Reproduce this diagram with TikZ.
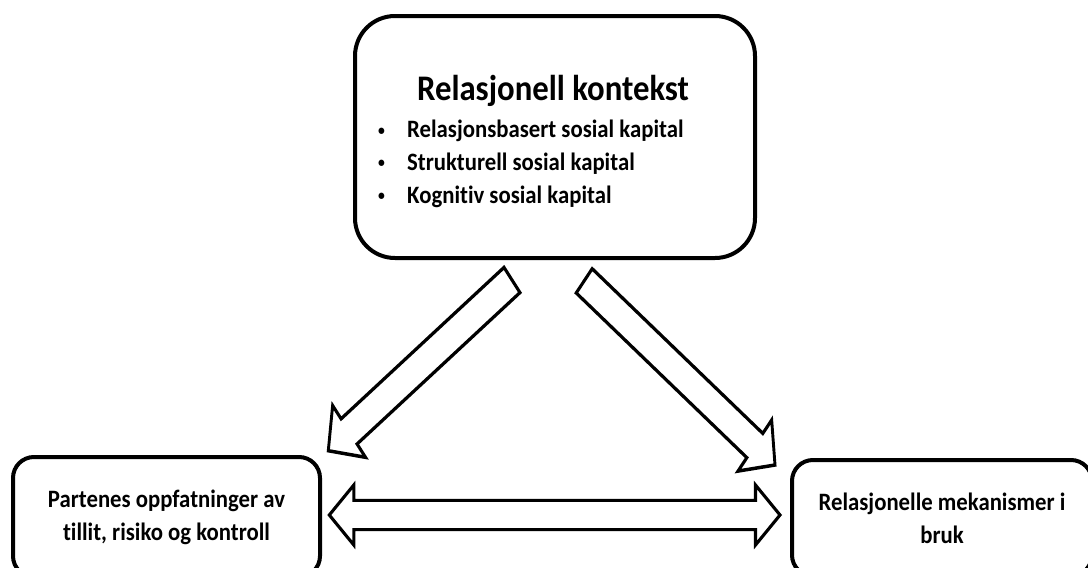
\documentclass[tikz,border=0pt]{standalone}
\usepackage{fontspec}
\setmainfont{Carlito}[FakeStretch=0.91, Ligatures=NoCommon]
\usetikzlibrary{calc}

\tikzset{
  box/.style={draw=black, line width=4pt, fill=white, inner sep=0pt, align=center,
    font=\bfseries\fontsize{25}{33}\selectfont},
  blockarr/.style={draw=black, fill=white, line width=3.1pt, line join=miter},
  itemtext/.style={anchor=base west, inner sep=0pt, font=\bfseries\fontsize{25}{33}\selectfont},
}

% small list bullet followed by the gap before the item text
\newcommand\itembullet{\makebox[31pt][l]{\hspace{2pt}\raisebox{2.6pt}{\fontsize{15}{15}\selectfont •}}}

% single block arrow: tail, tip, half shaft width, half head width, head length
\newcommand\blockarrow[5]{%
  \draw[blockarr] ($(#1)!#3!90:(#2)$)
    -- ($(#2)!#5!(#1)!#3!-90:(#1)$)
    -- ($(#2)!#5!(#1)!#4!-90:(#1)$)
    -- (#2)
    -- ($(#2)!#5!(#1)!#4!90:(#1)$)
    -- ($(#2)!#5!(#1)!#3!90:(#1)$)
    -- ($(#1)!#3!-90:(#2)$)
    -- cycle;}

% double-headed block arrow: left tip, right tip, half shaft, half head, head length
\newcommand\dblarrow[5]{%
  \draw[blockarr] (#1)
    -- ($(#1)!#5!(#2)!#4!90:(#2)$)
    -- ($(#1)!#5!(#2)!#3!90:(#2)$)
    -- ($(#2)!#5!(#1)!#3!-90:(#1)$)
    -- ($(#2)!#5!(#1)!#4!-90:(#1)$)
    -- (#2)
    -- ($(#2)!#5!(#1)!#4!90:(#1)$)
    -- ($(#2)!#5!(#1)!#3!90:(#1)$)
    -- ($(#1)!#5!(#2)!#3!-90:(#2)$)
    -- ($(#1)!#5!(#2)!#4!-90:(#2)$)
    -- cycle;}

\begin{document}
\begin{tikzpicture}[x=1pt,y=-1pt]
\clip (0,0) rectangle (1088,568);
\fill[white] (0,0) rectangle (1088,568);

% relational context box
\node[box, rounded corners=40pt, minimum width=400pt, minimum height=242pt] (ctx) at (555,137) {};
\node[anchor=base, inner sep=0pt, font=\bfseries\fontsize{36}{40}\selectfont] (title) at (553,100) {Relasjonell kontekst};
\node[itemtext] (i1) at (376,137.7) {\itembullet Relasjonsbasert sosial kapital};
\node[itemtext] (i2) at (376,170.5) {\itembullet Strukturell sosial kapital};
\node[itemtext] (i3) at (376,203.3) {\itembullet Kognitiv sosial kapital};

% lower boxes
\node[box, rounded corners=21pt, minimum width=307pt, minimum height=120pt] (perc) at (166.5,517)
  {Partenes oppfatninger av\\tillit, risiko og kontroll};
\node[box, rounded corners=21pt, minimum width=300pt, minimum height=116pt] (mech) at (942,518)
  {Relasjonelle mekanismer i\\bruk};

% arrows from the context box
\begin{scope}[transform canvas={yscale=1.21}]
  \coordinate (lt) at (512,231.4);
  \coordinate (lh) at (328.3,372.5);
  \coordinate (rt) at (584.2,232.1);
  \coordinate (rh) at (775,384.3);
  \tikzset{blockarr/.append style={line width=2.9pt}}
  \blockarrow{lt}{lh}{13.1pt}{27pt}{26.2pt}
  \blockarrow{rt}{rh}{12.8pt}{27pt}{25.8pt}
\end{scope}

% two-way arrow between the lower boxes
\coordinate (pl) at (329.3,515);
\coordinate (pr) at (780,515);
\dblarrow{pl}{pr}{14.6pt}{30pt}{24.5pt}
\end{tikzpicture}
\end{document}
